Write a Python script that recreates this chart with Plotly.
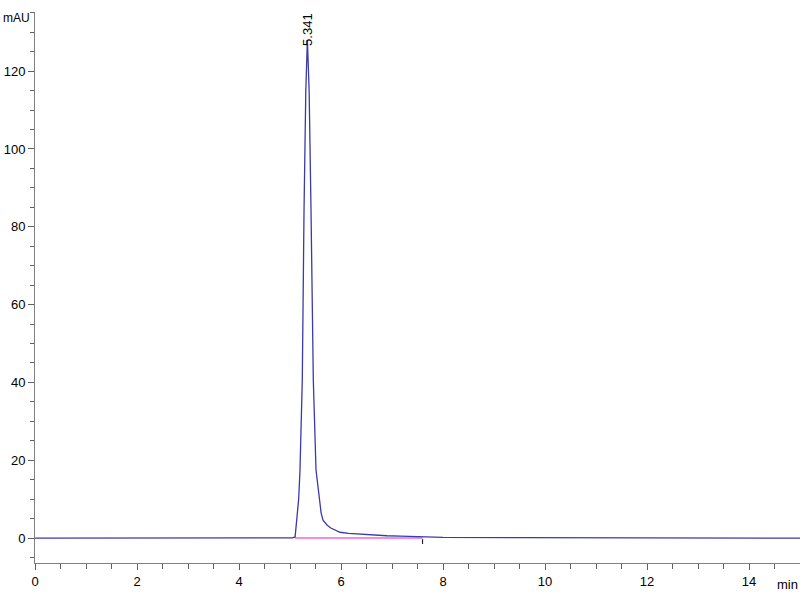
import plotly.graph_objects as go

# Chromatogram signal (retention time in min, absorbance in mAU)
time_min = [0.0, 0.2, 1.0, 3.0, 4.9, 5.05, 5.10, 5.137, 5.17, 5.196, 5.241, 5.275, 5.31,
            5.341, 5.375, 5.412, 5.457, 5.51, 5.57, 5.61, 5.647, 5.70, 5.73, 5.80,
            5.90, 5.98, 6.15, 6.37, 6.6, 6.9, 7.16, 7.4, 7.6, 8.0, 9.5, 11.0, 12.5, 13.8, 15.0]
signal_mau = [0.0, 0.0, 0.0, 0.0, 0.0, 0.05, 0.3, 4.6, 10.0, 17.5, 40.6, 84.3, 115.0,
              128.0, 115.0, 84.3, 40.6, 17.5, 10.0, 6.5, 4.6, 3.8, 3.3, 2.6,
              2.0, 1.5, 1.2, 1.0, 0.8, 0.6, 0.5, 0.4, 0.3, 0.2, 0.1, 0.08, 0.06, 0.05, 0.0]

# Integration baseline
baseline_time = [5.10, 7.6]
baseline_mau = [0.0, 0.0]

peak_rt = 5.341
peak_height = 128.0
peak_label = "5.341"

x_ticks = [0, 2, 4, 6, 8, 10, 12, 14]
y_ticks = [0, 20, 40, 60, 80, 100, 120]

font_family = "Arial Narrow, Liberation Sans Narrow, Liberation Sans, Arial, sans-serif"

fig = go.Figure()
fig.add_trace(go.Scatter(x=baseline_time, y=baseline_mau, mode="lines",
                         line=dict(color="#ee66dd", width=1.5), hoverinfo="skip"))
fig.add_trace(go.Scatter(x=time_min, y=signal_mau, mode="lines",
                         line=dict(color="#3a3aa8", width=1.3), hoverinfo="skip"))
# baseline end marker
fig.add_trace(go.Scatter(x=[baseline_time[1], baseline_time[1]], y=[-0.3, -1.5], mode="lines",
                         line=dict(color="black", width=1), hoverinfo="skip"))

fig.add_annotation(x=peak_rt, y=peak_height, text=peak_label, textangle=-90,
                   showarrow=False, xanchor="center", yanchor="bottom", yshift=-8,
                   font=dict(family=font_family, size=13, color="black"))

fig.add_annotation(xref="paper", yref="paper", x=0, y=1, text="mAU", showarrow=False,
                   xanchor="left", yanchor="middle", xshift=-34, yshift=-6,
                   font=dict(family=font_family, size=12, color="black"))
fig.add_annotation(xref="paper", yref="paper", x=1, y=0, text="min", showarrow=False,
                   xanchor="right", yanchor="top", yshift=-12,
                   font=dict(family=font_family, size=13, color="black"))

axis_common = dict(showgrid=False, zeroline=False, showline=True, linecolor="#808080",
                   linewidth=1, ticks="outside", tickcolor="#606060", ticklen=6,
                   automargin=False,
                   tickfont=dict(family=font_family, size=13, color="black"))

fig.update_xaxes(range=[0, 15.0], tickvals=x_ticks, ticktext=[str(v) for v in x_ticks],
                 minor=dict(dtick=0.5, tick0=0, ticks="outside", ticklen=5, tickcolor="#606060"),
                 **axis_common)
fig.update_yaxes(range=[-6.4, 135.2], tickvals=y_ticks, ticktext=[str(v) for v in y_ticks],
                 minor=dict(dtick=5, tick0=0, ticks="outside", ticklen=4, tickcolor="#606060"),
                 **axis_common)

fig.update_layout(width=800, height=600, showlegend=False, hovermode=False,
                  plot_bgcolor="white", paper_bgcolor="white",
                  margin=dict(l=35, r=0, t=12, b=37, autoexpand=False))

fig.write_html("out.html", config={"displayModeBar": False},
               post_script="document.body.style.margin='0';document.body.style.overflow='hidden';")
